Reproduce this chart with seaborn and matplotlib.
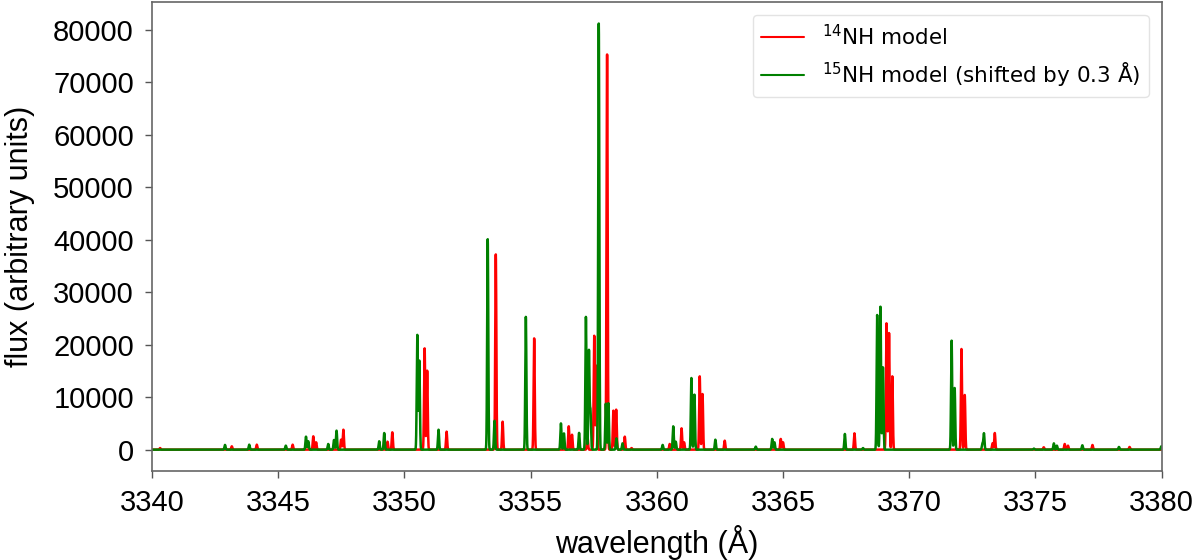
import numpy as np
import pandas as pd
import matplotlib
matplotlib.use("Agg")
import matplotlib.pyplot as plt
import seaborn as sns

# Line list: centre wavelength (Å) and peak flux
nh14_centres = [3340.32, 3343.16, 3344.15, 3345.57, 3346.39, 3346.50, 3347.49, 3347.58,
                3349.33, 3349.52, 3350.80, 3350.90, 3351.67, 3353.62, 3353.89, 3355.14,
                3356.51, 3356.64, 3357.25, 3357.52, 3357.61, 3358.03, 3358.28, 3358.39,
                3358.73, 3359.00, 3360.51, 3360.98, 3361.08, 3361.70, 3361.81, 3362.69,
                3364.91, 3365.00, 3367.83, 3369.10, 3369.20, 3369.33, 3372.07, 3372.20,
                3373.30, 3373.39, 3375.33, 3376.16, 3376.29, 3377.26, 3378.73]
nh14_heights = [300, 630, 950, 950, 2540, 1400, 1900, 3800,
                1520, 3300, 19300, 15050, 3430, 37200, 5330, 21200,
                4450, 2850, 2700, 21700, 16000, 75300, 7430, 7620,
                2480, 300, 1080, 4060, 1400, 13970, 10600, 1710,
                2040, 1400, 3110, 24070, 22220, 13970, 19180, 10420,
                1200, 3170, 450, 1080, 760, 890, 510]

nh15_centres = [3342.89, 3343.85, 3345.30, 3346.10, 3346.19, 3346.98, 3347.21, 3347.31,
                3349.00, 3349.20, 3350.51, 3350.59, 3351.35, 3353.30, 3353.57, 3354.81,
                3356.20, 3356.32, 3356.92, 3357.19, 3357.31, 3357.37, 3357.70, 3357.98,
                3358.08, 3358.40, 3358.64, 3360.23, 3360.65, 3360.75, 3361.37, 3361.49,
                3362.32, 3363.92, 3364.57, 3364.66, 3367.45, 3368.17, 3368.73, 3368.86,
                3368.96, 3371.68, 3371.80, 3372.90, 3372.96, 3374.94, 3375.73, 3375.85,
                3376.86, 3378.31, 3379.99]
nh15_heights = [900, 950, 760, 2480, 1600, 1080, 1840, 3620,
                1600, 3170, 21850, 16950, 3800, 40100, 5500, 25300,
                5000, 3100, 3200, 25300, 18850, 7400, 81200, 8760,
                8850, 2150, 1200, 900, 4440, 1520, 13650, 10480,
                1900, 570, 2040, 1400, 2990, 300, 25660, 27240,
                15680, 20770, 11750, 1200, 3110, 200, 1200, 760,
                830, 510, 630]

labels = [r"$^{14}$NH model", r"$^{15}$NH model (shifted by 0.3 Å)"]
colors = ["red", "green"]

# model spectrum on a wavelength grid (narrow line profiles)
wl = np.arange(3340.0, 3380.0001, 0.005)
sigma = 0.022


def spectrum(centres, heights):
    c = np.asarray(centres)[:, None]
    h = np.asarray(heights)[:, None]
    prof = h * np.exp(-0.5 * ((wl[None, :] - c) / sigma) ** 2)
    return prof.sum(axis=0)


df14 = pd.DataFrame({"wavelength": wl, "flux": spectrum(nh14_centres, nh14_heights)})
df15 = pd.DataFrame({"wavelength": wl, "flux": spectrum(nh15_centres, nh15_heights)})

sns.set_style("ticks")
plt.rcParams["font.family"] = ["Liberation Sans", "DejaVu Sans"]
plt.rcParams["text.color"] = "black"
plt.rcParams["axes.labelcolor"] = "black"
plt.rcParams["xtick.color"] = "#555555"
plt.rcParams["ytick.color"] = "#555555"
plt.rcParams["xtick.labelcolor"] = "black"
plt.rcParams["ytick.labelcolor"] = "black"

fig, ax = plt.subplots(figsize=(12, 5.6), dpi=100)
fig.subplots_adjust(left=0.1267, right=0.968, bottom=0.159, top=0.996)

sns.lineplot(data=df14, x="wavelength", y="flux", ax=ax, color=colors[0],
             lw=1.8, label=labels[0], estimator=None, sort=False)
sns.lineplot(data=df15, x="wavelength", y="flux", ax=ax, color=colors[1],
             lw=1.8, label=labels[1], estimator=None, sort=False)

ax.set_xlim(3340, 3380)
ax.set_xticks(np.arange(3340, 3381, 5))
ax.set_yticks(np.arange(0, 80001, 10000))
ax.set_xlabel("wavelength (Å)", fontsize=22, labelpad=6, color="black")
ax.set_ylabel("flux (arbitrary units)", fontsize=22, color="black")
ax.yaxis.set_label_coords(-0.1155, 0.5)
ax.tick_params(axis="both", labelsize=21, length=5, width=1, pad=8)
for s in ax.spines.values():
    s.set_color("#666666")
    s.set_linewidth(1.2)

leg = ax.legend(loc="upper right", prop={"family": "DejaVu Sans", "size": 15.5},
                frameon=True, borderaxespad=0.6)
leg.get_frame().set_edgecolor("#dddddd")
for t in leg.get_texts():
    t.set_color("black")
for h in leg.get_lines():
    h.set_linewidth(1.5)

fig.savefig("out.png", dpi=100)
